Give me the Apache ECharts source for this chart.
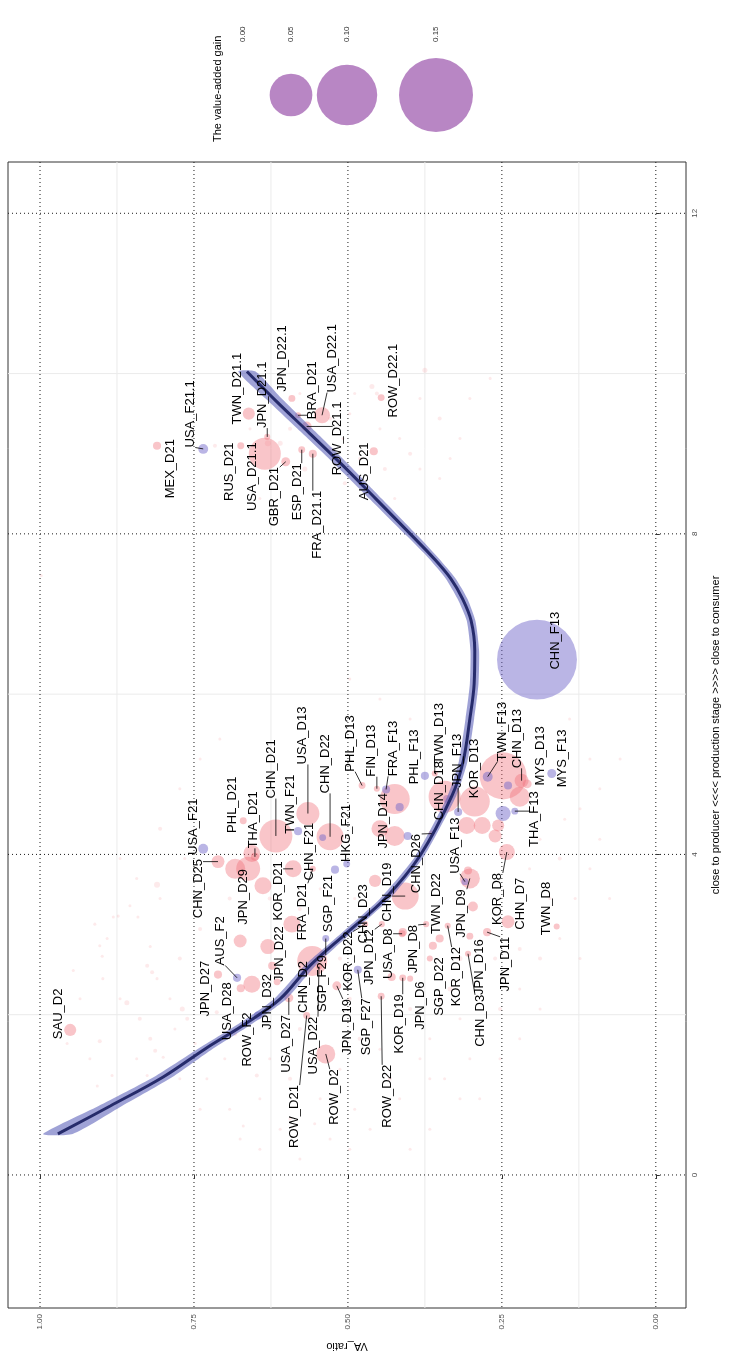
<!DOCTYPE html>
<html>
<head>
<meta charset="utf-8">
<style>
  html, body { margin: 0; padding: 0; background: #ffffff; }
  #chart { width: 729px; height: 1359px; }
</style>
</head>
<body>
<div id="chart"></div>
<script src="https://cdn.jsdelivr.net/npm/echarts@6/dist/echarts.min.js"></script>
<script>
// ---- labelled industries: production stage, value-added ratio, value-added gain ----
const pointNames = [
  'TWN_D21.1', 'JPN_D21.1', 'JPN_D22.1', 'BRA_D21', 'USA_D22.1', 'ROW_D21.1', 'RUS_D21', 'USA_D21.1', 'GBR_D21', 'ESP_D21', 'FRA_D21.1', 'AUS_D21', 'ROW_D22.1', 'USA_F21.1', 'MEX_D21',
  'USA_F21', 'CHN_D25', 'PHL_D21', 'THA_D21', 'JPN_D29', 'CHN_D21', 'TWN_F21', 'USA_D13', 'CHN_D22', 'CHN_F21', 'HKG_F21', 'PHL_D13', 'FIN_D13', 'FRA_F13', 'JPN_D14',
  'SGP_F21', 'KOR_D21', 'FRA_D21', 'CHN_D23', 'CHN_D19', 'USA_D8', 'CHN_D26', 'JPN_D27', 'AUS_F2', 'USA_D28', 'ROW_F2', 'JPN_D32', 'JPN_D22', 'USA_D27', 'CHN_D2',
  'SGP_F29', 'USA_D22', 'ROW_D21', 'ROW_D2', 'JPN_D19', 'KOR_D22', 'SGP_F27', 'JPN_D12', 'ROW_D22', 'KOR_D19', 'JPN_D8', 'JPN_D6', 'TWN_D22', 'SGP_D22', 'KOR_D12',
  'JPN_D16', 'CHN_D3', 'JPN_D11', 'JPN_D9', 'KOR_D8', 'CHN_D7', 'TWN_D8', 'USA_F13', 'JPN_F13', 'KOR_D13', 'CHN_D18', 'TWN_D13', 'PHL_F13', 'TWN_F13', 'CHN_D13',
  'MYS_D13', 'MYS_F13', 'THA_F13', 'CHN_F13', 'SAU_D2'
];
const pointStage = [
  9.50, 9.21, 9.69, 9.48, 9.48, 9.34, 9.10, 9.00, 8.90, 9.05, 9.00, 9.03, 9.70, 9.06, 9.10,
  4.07, 3.91, 4.42, 3.97, 3.82, 4.23, 4.29, 4.51, 4.22, 4.21, 3.88, 4.86, 4.82, 4.81, 4.32,
  3.81, 3.82, 3.82, 3.67, 3.48, 3.01, 4.26, 2.50, 2.46, 2.33, 1.99, 2.41, 3.13, 2.21, 2.67,
  2.95, 2.60, 1.99, 1.51, 2.36, 3.13, 2.56, 3.13, 2.23, 2.46, 3.13, 2.45, 2.95, 2.70, 3.11,
  2.98, 2.76, 3.03, 3.70, 4.03, 3.16, 3.10, 3.66, 4.53, 4.66, 4.72, 5.01, 4.98, 4.97, 4.92,
  4.88, 5.01, 4.54, 6.43, 1.81
];
const pointVa = [
  0.661, 0.631, 0.591, 0.581, 0.542, 0.567, 0.674, 0.635, 0.601, 0.575, 0.557, 0.458, 0.446, 0.735, 0.810,
  0.735, 0.711, 0.670, 0.651, 0.662, 0.617, 0.581, 0.565, 0.529, 0.541, 0.502, 0.477, 0.453, 0.438, 0.448,
  0.521, 0.589, 0.557, 0.456, 0.407, 0.412, 0.364, 0.711, 0.680, 0.674, 0.646, 0.615, 0.591, 0.596, 0.558,
  0.536, 0.547, 0.567, 0.536, 0.518, 0.472, 0.484, 0.445, 0.446, 0.411, 0.373, 0.399, 0.351, 0.367, 0.338,
  0.302, 0.305, 0.274, 0.302, 0.242, 0.240, 0.161, 0.310, 0.321, 0.294, 0.343, 0.359, 0.375, 0.273, 0.218,
  0.209, 0.169, 0.229, 0.193, 0.951
];
const pointGain = [
  0.0040, 0.0010, 0.0013, 0.0010, 0.0070, 0.0027, 0.0013, 0.0281, 0.0022, 0.0013, 0.0018, 0.0018, 0.0013, 0.0027, 0.0018,
  0.0027, 0.0046, 0.0013, 0.0018, 0.0158, 0.0299, 0.0018, 0.0145, 0.0200, 0.0013, 0.0013, 0.0013, 0.0010, 0.0018, 0.0079,
  0.0018, 0.0079, 0.0010, 0.0040, 0.0200, 0.0013, 0.0010, 0.0018, 0.0018, 0.0018, 0.0018, 0.0013, 0.0079, 0.0022, 0.0247,
  0.0013, 0.0010, 0.0013, 0.0099, 0.0022, 0.0010, 0.0018, 0.0010, 0.0013, 0.0013, 0.0010, 0.0010, 0.0018, 0.0010, 0.0010,
  0.0013, 0.0010, 0.0018, 0.0110, 0.0070, 0.0046, 0.0010, 0.0013, 0.0018, 0.0247, 0.0281, 0.0010, 0.0018, 0.0027, 0.0054,
  0.0022, 0.0022, 0.0013, 0.1750, 0.0040
];

// ---- other highlighted industries (no room for a label) ----
const otherStage = [4.98, 4.72, 4.36, 4.36, 4.23, 4.36, 4.69, 4.23, 4.59, 4.23, 4.69, 4.86, 4.51, 3.35, 3.80, 3.61, 2.38, 2.92, 2.85, 2.61, 2.47, 3.03, 2.86, 4.01, 3.82];
const otherVa = [0.248, 0.221, 0.307, 0.282, 0.261, 0.256, 0.424, 0.424, 0.416, 0.403, 0.339, 0.240, 0.248, 0.297, 0.305, 0.638, 0.656, 0.675, 0.630, 0.623, 0.429, 0.411, 0.362, 0.656, 0.683];
const otherGain = [0.0606, 0.0110, 0.0079, 0.0079, 0.0046, 0.0040, 0.0247, 0.0110, 0.0018, 0.0018, 0.0018, 0.0018, 0.0062, 0.0027, 0.0018, 0.0079, 0.0079, 0.0046, 0.0062, 0.0018, 0.0018, 0.0018, 0.0018, 0.0079, 0.0110];
const otherKind = ['D', 'D', 'D', 'D', 'D', 'D', 'D', 'D', 'F', 'F', 'F', 'F', 'F', 'D', 'D', 'D', 'D', 'D', 'D', 'D', 'D', 'D', 'D', 'D', 'D'];

// ---- all remaining industries (background) ----
const faintStage = [
  9.10, 9.31, 9.13, 9.31, 8.81, 9.44, 9.06, 9.19, 9.50, 8.63, 8.94, 9.84, 9.75, 9.31, 8.81, 8.44, 9.19, 9.00, 9.69, 8.81, 9.44, 8.69, 9.19, 10.04, 9.13, 9.75, 9.75,
  3.62, 3.70, 3.36, 3.22, 3.13, 2.73, 2.95, 2.61, 2.85, 2.53, 3.22, 3.23, 2.86, 2.45, 2.45, 2.55, 7.48,
  1.67, 2.15, 1.70, 1.55, 1.24, 1.45, 2.07, 1.95, 1.20, 0.82, 1.24, 0.61, 1.11, 1.24, 1.64, 2.03, 1.47,
  2.20, 1.95, 2.07, 2.32, 2.70, 2.95, 3.45, 3.82, 4.19, 1.45, 1.45, 0.95, 1.70, 0.95, 0.57, 0.32, 0.57, 0.45, 0.20, 0.57, 0.32, 0.45,
  2.32, 2.70, 3.82, 3.95, 4.57, 4.82, 5.19, 5.69, 5.94, 6.19, 5.19, 4.82, 4.32, 5.44,
  2.20, 1.70, 0.95, 1.20, 1.45, 1.45, 1.32, 1.57, 2.07, 1.70, 2.70, 2.82, 3.45, 4.19, 4.44,
  3.45, 3.32, 3.57, 3.45, 2.70, 3.45, 3.07, 2.70, 2.20, 1.64, 1.45,
  2.20, 1.95, 1.82, 2.20, 1.76, 0.95, 0.70, 0.64, 0.82, 1.20, 1.20, 1.45, 2.07, 2.70, 3.45, 5.19, 5.69,
  3.45, 3.95, 3.95, 2.20, 1.45, 1.82, 1.45, 1.20, 0.95, 0.32, 0.82, 1.20, 8.94, 9.69, 9.94, 8.69, 8.44
];
const faintVa = [
  0.716, 0.659, 0.610, 0.594, 0.570, 0.529, 0.529, 0.508, 0.497, 0.505, 0.481, 0.461, 0.453, 0.448, 0.440, 0.424, 0.416, 0.399, 0.383, 0.383, 0.351, 0.351, 0.318, 0.375, 0.630, 0.578, 0.489,
  0.810, 0.843, 0.854, 0.881, 0.911, 0.899, 0.891, 0.826, 0.821, 0.818, 0.841, 0.873, 0.903, 0.898, 0.810, 0.946, 0.998,
  0.903, 0.859, 0.821, 0.813, 0.826, 0.843, 0.769, 0.761, 0.729, 0.692, 0.648, 0.670, 0.907, 0.883, 0.956, 0.713, 0.800,
  0.351, 0.318, 0.253, 0.221, 0.188, 0.156, 0.131, 0.107, 0.091, 0.302, 0.383, 0.416, 0.221, 0.286, 0.367, 0.497, 0.464, 0.529, 0.578, 0.610, 0.643, 0.675,
  0.334, 0.261, 0.205, 0.156, 0.123, 0.091, 0.058, 0.399, 0.448, 0.497, 0.740, 0.773, 0.805, 0.708,
  0.497, 0.481, 0.545, 0.594, 0.627, 0.562, 0.513, 0.448, 0.399, 0.367, 0.318, 0.221, 0.172, 0.188, 0.148,
  0.627, 0.578, 0.545, 0.489, 0.513, 0.692, 0.740, 0.773, 0.789, 0.748, 0.700,
  0.870, 0.838, 0.781, 0.732, 0.683, 0.643, 0.594, 0.554, 0.489, 0.432, 0.343, 0.253, 0.188, 0.123, 0.075, 0.107, 0.140,
  0.805, 0.765, 0.870, 0.935, 0.919, 0.578, 0.659, 0.367, 0.318, 0.399, 0.740, 0.773, 0.334, 0.302, 0.269, 0.692, 0.643
];
const faintGain = [
  0.00044, 0.00025, 0.00069, 0.00044, 0.00069, 0.00044, 0.00044, 0.00025, 0.00025, 0.00044, 0.00025, 0.00069, 0.00044, 0.00025, 0.00044, 0.00025, 0.00025, 0.00044, 0.00025, 0.00025, 0.00044, 0.00025, 0.00025, 0.00069, 0.00099, 0.00025, 0.00025,
  0.00099, 0.00025, 0.00025, 0.00025, 0.00025, 0.00025, 0.00025, 0.00044, 0.00025, 0.00044, 0.00025, 0.00025, 0.00025, 0.00025, 0.00025, 0.00025, 0.00025,
  0.00044, 0.00069, 0.00044, 0.00044, 0.00025, 0.00025, 0.00069, 0.00044, 0.00025, 0.00025, 0.00044, 0.00025, 0.00025, 0.00025, 0.00025, 0.00044, 0.00025,
  0.00044, 0.00025, 0.00044, 0.00025, 0.00044, 0.00025, 0.00025, 0.00025, 0.00025, 0.00025, 0.00025, 0.00025, 0.00025, 0.00025, 0.00025, 0.00025, 0.00025, 0.00025, 0.00025, 0.00025, 0.00025, 0.00025,
  0.00069, 0.00044, 0.00025, 0.00044, 0.00025, 0.00025, 0.00025, 0.00025, 0.00025, 0.00025, 0.00025, 0.00025, 0.00044, 0.00025,
  0.00044, 0.00044, 0.00025, 0.00044, 0.00025, 0.00025, 0.00025, 0.00025, 0.00044, 0.00025, 0.00069, 0.00044, 0.00025, 0.00025, 0.00025,
  0.00044, 0.00044, 0.00025, 0.00025, 0.00044, 0.00044, 0.00044, 0.00044, 0.00025, 0.00025, 0.00025,
  0.00025, 0.00044, 0.00025, 0.00025, 0.00044, 0.00025, 0.00025, 0.00025, 0.00025, 0.00044, 0.00025, 0.00025, 0.00025, 0.00025, 0.00025, 0.00025, 0.00025,
  0.00025, 0.00025, 0.00025, 0.00025, 0.00025, 0.00044, 0.00025, 0.00025, 0.00025, 0.00025, 0.00025, 0.00025, 0.00025, 0.00025, 0.00025, 0.00025, 0.00025
];

// ---- smoothed trend of VA ratio along the production stage, with its band ----
const curveStage = [0.512, 0.861, 1.223, 1.573, 1.885, 2.197, 2.609, 3.034, 3.446, 3.983, 4.732, 5.156, 5.693, 6.130, 6.542, 6.916, 7.191, 7.441, 7.690, 7.978, 8.439, 8.851, 9.276, 9.675, 10.025];
const curveVa = [0.971, 0.886, 0.800, 0.732, 0.667, 0.610, 0.562, 0.500, 0.440, 0.383, 0.331, 0.313, 0.302, 0.295, 0.294, 0.300, 0.314, 0.333, 0.360, 0.396, 0.455, 0.508, 0.565, 0.619, 0.664];
const curveSe = [0.024, 0.019, 0.015, 0.012, 0.011, 0.010, 0.009, 0.008, 0.008, 0.007, 0.007, 0.007, 0.007, 0.007, 0.007, 0.007, 0.008, 0.008, 0.008, 0.009, 0.010, 0.011, 0.012, 0.013, 0.014];

// ---- axes and legend breaks ----
const vaTicks = [0, 0.25, 0.5, 0.75, 1];
const vaMinor = [0.125, 0.375, 0.625, 0.875];
const stageTicks = [0, 4, 8, 12];
const stageMinor = [2, 6, 10];
const gainBreaks = [0, 0.05, 0.10, 0.15];

// label placement (pixel offset of each label centre from its point)
const labelOffset = {
  'TWN_D21.1': [-11, -25], 'JPN_D21.1': [-5, -42], 'JPN_D22.1': [-9, -40], 'BRA_D21': [14, -25], 'USA_D22.1': [10, -57],
  'ROW_D21.1': [31, 12], 'RUS_D21': [-11, 26], 'USA_D21.1': [-12, 23], 'GBR_D21': [-11, 35], 'ESP_D21': [-4, 42],
  'FRA_D21.1': [5, 71], 'AUS_D21': [-9, 20], 'ROW_D22.1': [12, -17], 'USA_F21.1': [-13, -35], 'MEX_D21': [13, 23],
  'USA_F21': [-10, -22], 'CHN_D25': [-20, 27], 'PHL_D21': [-11, -16], 'THA_D21': [-2, -37], 'JPN_D29': [-5, 28],
  'CHN_D21': [-4, -67], 'TWN_F21': [-8, -27], 'USA_D13': [-5, -78], 'CHN_D22': [-5, -73], 'CHN_F21': [-13, 14],
  'HKG_F21': [0, -31], 'PHL_D13': [-12, -42], 'FIN_D13': [-5, -38], 'FRA_F13': [7, -41], 'JPN_D14': [3, -8],
  'SGP_F21': [-7, 34], 'KOR_D21': [-15, 22], 'FRA_D21': [-10, 43], 'CHN_D23': [-12, 33], 'CHN_D19': [-18, -4],
  'USA_D8': [-14, 20], 'CHN_D26': [-15, 30], 'JPN_D27': [-13, 14], 'AUS_F2': [-17, -37], 'USA_D28': [-13, 23],
  'ROW_F2': [-11, 24], 'JPN_D32': [-10, 20], 'JPN_D22': [-12, 30], 'USA_D27': [-2, 46], 'CHN_D2': [-9, 26],
  'SGP_F29': [-3, 45], 'USA_D22': [-6, 79], 'ROW_D21': [-12, 101], 'ROW_D2': [9, 43], 'JPN_D19': [11, 41],
  'KOR_D22': [-17, 37], 'SGP_F27': [9, 57], 'JPN_D12': [-12, 33], 'ROW_D22': [6, 100], 'KOR_D19': [-3, 46],
  'JPN_D8': [-13, 25], 'JPN_D6': [10, 27], 'TWN_D22': [-3, -35], 'SGP_D22': [10, 28], 'KOR_D12': [9, 51],
  'JPN_D16': [10, 31], 'CHN_D3': [12, 67], 'JPN_D11': [18, 32], 'JPN_D9': [-8, 35], 'KOR_D8': [-9, 47],
  'CHN_D7': [12, -18], 'TWN_D8': [-10, -18], 'USA_F13': [-10, -36], 'JPN_F13': [-1, -51], 'KOR_D13': [0, -33],
  'CHN_D18': [-5, -6], 'TWN_D13': [5, -40], 'PHL_F13': [-10, -19], 'TWN_F13': [15, -45], 'CHN_D13': [-4, -42],
  'MYS_D13': [13, -28], 'MYS_F13': [11, -15], 'THA_F13': [20, 8], 'CHN_F13': [18, -19], 'SAU_D2': [-12, -16]
};

const FONT = '"Liberation Sans", Arial, Helvetica, sans-serif';
const LABEL_FONT = '13px ' + FONT;
const PINK = 'rgba(240,110,120,0.5)';
const PURPLE = 'rgba(110,100,200,0.6)';
const FAINT = 'rgba(240,110,120,0.18)';
const LEGEND_FILL = 'rgba(140,60,160,0.62)';

// bubble area proportional to the value-added gain
const sizeOf = g => 191 * Math.sqrt(g);
const isForeign = name => name.indexOf('_F') >= 0;

const measureCtx = document.createElement('canvas').getContext('2d');
measureCtx.font = LABEL_FONT;
const textLen = t => measureCtx.measureText(t).width;

const chart = echarts.init(document.getElementById('chart'), null, { renderer: 'canvas' });

function renderGrid(params, api) {
  const cs = params.coordSys;
  const kids = [];
  const vLine = (x, style) => kids.push({ type: 'line', shape: { x1: x, y1: cs.y, x2: x, y2: cs.y + cs.height }, style });
  const hLine = (y, style) => kids.push({ type: 'line', shape: { x1: cs.x, y1: y, x2: cs.x + cs.width, y2: y }, style });
  const minor = { stroke: '#ebebeb', lineWidth: 1 };
  const major = { stroke: '#1a1a1a', lineWidth: 1, lineDash: [1, 3] };
  vaMinor.forEach(v => vLine(api.coord([v, 0])[0], minor));
  stageMinor.forEach(s => hLine(api.coord([0, s])[1], minor));
  vaTicks.forEach(v => vLine(api.coord([v, 0])[0], major));
  stageTicks.forEach(s => hLine(api.coord([0, s])[1], major));
  return { type: 'group', children: kids };
}

function renderBand(params, api) {
  const lower = curveStage.map((s, i) => api.coord([curveVa[i] - curveSe[i], s]));
  const upper = curveStage.map((s, i) => api.coord([curveVa[i] + curveSe[i], s])).reverse();
  return {
    type: 'polygon',
    shape: { points: lower.concat(upper), smooth: 0.2 },
    style: { fill: 'rgba(90,95,185,0.58)' }
  };
}

function renderLabel(params, api) {
  const i = api.value(2);
  const name = pointNames[i];
  const p = api.coord([api.value(0), api.value(1)]);
  const off = labelOffset[name] || [0, -30];
  const cx = p[0] + off[0], cy = p[1] + off[1];
  const len = textLen(name), thick = 10;
  const nx = Math.min(Math.max(p[0], cx - thick / 2), cx + thick / 2);
  const ny = Math.min(Math.max(p[1], cy - len / 2), cy + len / 2);
  const dist = Math.hypot(nx - p[0], ny - p[1]);
  const r = sizeOf(pointGain[i]) / 2;
  const kids = [];
  if (dist > Math.max(8, 0.8 * r)) {
    kids.push({ type: 'line', shape: { x1: p[0], y1: p[1], x2: nx, y2: ny }, style: { stroke: '#000', lineWidth: 0.8 } });
  }
  kids.push({
    type: 'text', x: cx, y: cy, rotation: Math.PI / 2,
    style: { text: name, font: LABEL_FONT, fill: '#000', align: 'center', verticalAlign: 'middle' }
  });
  return { type: 'group', children: kids };
}

// size legend, drawn sideways like the rest of the figure
const legendKeyX = [243, 291, 347, 436];
const legendGraphics = [{
  type: 'text', x: 218, y: 142, rotation: Math.PI / 2,
  style: { text: 'The value-added gain', font: '11px ' + FONT, fill: '#000', align: 'left', verticalAlign: 'middle' }
}];
gainBreaks.forEach((g, i) => {
  legendGraphics.push({
    type: 'text', x: legendKeyX[i], y: 42, rotation: Math.PI / 2,
    style: { text: g.toFixed(2), font: '8px ' + FONT, fill: '#333', align: 'left', verticalAlign: 'middle' }
  });
  if (g > 0) {
    legendGraphics.push({
      type: 'circle', shape: { cx: legendKeyX[i], cy: 95, r: sizeOf(g) / 2 }, style: { fill: LEGEND_FILL }
    });
  }
});

const option = {
  animation: false,
  backgroundColor: '#ffffff',
  grid: {
    left: 8, right: 43, top: 162, bottom: 51,
    show: true, borderColor: '#333333', borderWidth: 1, backgroundColor: 'transparent',
    outerBoundsMode: 'none'
  },
  xAxis: {
    type: 'value', min: -0.049, max: 1.052, inverse: true, position: 'bottom',
    splitLine: { show: false },
    axisLine: { show: false },
    axisTick: { show: true, customValues: vaTicks, length: 4, lineStyle: { color: '#333' } },
    axisLabel: {
      customValues: vaTicks, rotate: 90, margin: 6, fontSize: 8, color: '#4d4d4d', fontFamily: FONT,
      formatter: v => Number(v).toFixed(2)
    },
    name: 'VA_ratio', nameLocation: 'middle', nameGap: 33, nameRotate: 180,
    nameTextStyle: { fontSize: 11, color: '#000', fontFamily: FONT }
  },
  yAxis: {
    type: 'value', min: -1.66, max: 12.64, position: 'right',
    splitLine: { show: false },
    axisLine: { show: false },
    axisTick: { show: true, customValues: stageTicks, length: 4, lineStyle: { color: '#333' } },
    axisLabel: {
      customValues: stageTicks, rotate: 90, margin: 5, fontSize: 8, color: '#4d4d4d', fontFamily: FONT,
      formatter: v => String(Math.round(v))
    },
    name: 'close to producer <<<< production stage >>>> close to consumer',
    nameLocation: 'middle', nameGap: 24, nameRotate: 90,
    nameTextStyle: { fontSize: 11, color: '#000', fontFamily: FONT }
  },
  graphic: { elements: legendGraphics },
  series: [
    {
      type: 'custom', name: 'grid', silent: true, z: 0,
      data: [[0.5, 5]], renderItem: renderGrid
    },
    {
      type: 'scatter', name: 'all industries', silent: true, z: 1,
      data: faintStage.map((s, i) => [faintVa[i], s, faintGain[i]]),
      symbolSize: d => sizeOf(d[2]),
      itemStyle: { color: FAINT, borderWidth: 0 }
    },
    {
      type: 'scatter', name: 'highlighted', silent: true, z: 2,
      data: otherStage.map((s, i) => ({
        value: [otherVa[i], s, otherGain[i]],
        itemStyle: { color: otherKind[i] === 'F' ? PURPLE : PINK }
      })),
      symbolSize: d => sizeOf(d[2]),
      itemStyle: { borderWidth: 0 }
    },
    {
      type: 'scatter', name: 'labelled', silent: true, z: 2,
      data: pointNames.map((n, i) => ({
        value: [pointVa[i], pointStage[i], pointGain[i]],
        itemStyle: { color: isForeign(n) ? PURPLE : PINK }
      })),
      symbolSize: d => sizeOf(d[2]),
      itemStyle: { borderWidth: 0 }
    },
    {
      type: 'custom', name: 'band', silent: true, z: 3,
      data: [[0.5, 5]], renderItem: renderBand
    },
    {
      type: 'line', name: 'trend', silent: true, z: 4,
      data: curveStage.map((s, i) => [curveVa[i], s]),
      showSymbol: false, symbol: 'none', smooth: 0.35,
      lineStyle: { color: '#262b6b', width: 3 }
    },
    {
      type: 'custom', name: 'labels', silent: true, z: 5, clip: false,
      data: pointNames.map((n, i) => [pointVa[i], pointStage[i], i]),
      encode: { x: 0, y: 1 },
      renderItem: renderLabel
    }
  ]
};

chart.setOption(option);
</script>
</body>
</html>
